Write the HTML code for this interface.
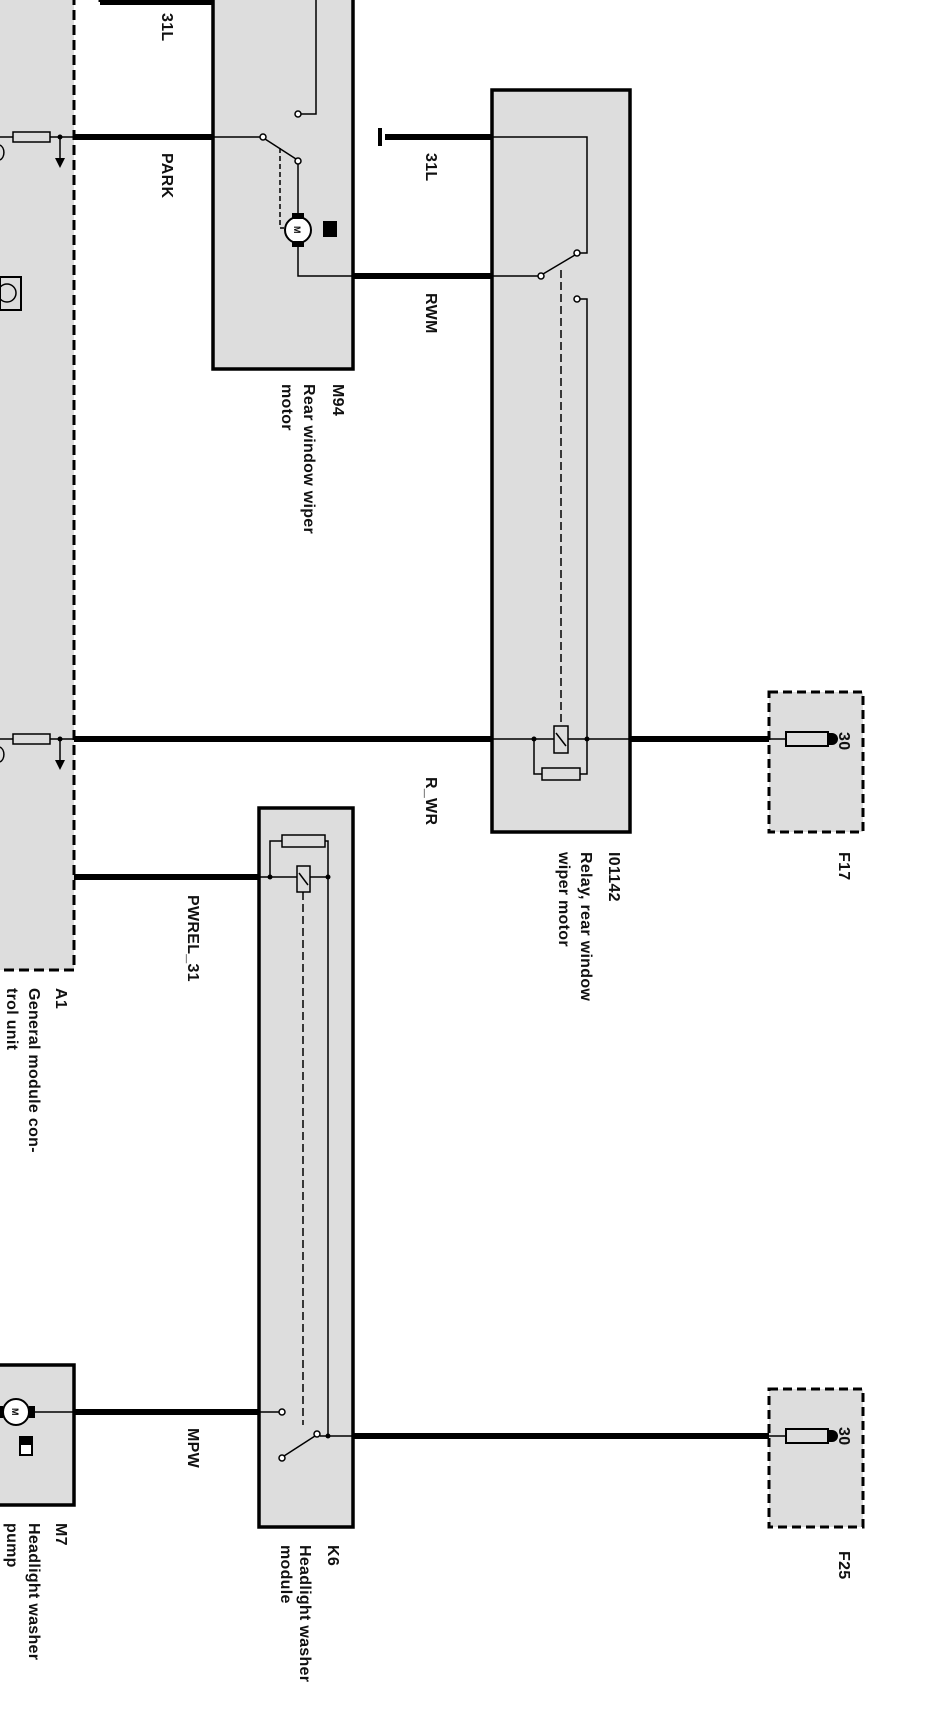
<!DOCTYPE html>
<html><head><meta charset="utf-8"><style>
html,body{margin:0;padding:0;background:#fff;}
svg{display:block}
text{font-family:"Liberation Sans",Arial,sans-serif;font-size:16px;font-weight:bold;fill:#111;letter-spacing:0.3px}
text.m{font-size:9px;letter-spacing:0}
</style></head><body>
<svg width="944" height="1711" viewBox="0 0 944 1711" xmlns="http://www.w3.org/2000/svg">
<rect x="-5" y="-5" width="79" height="975" fill="#ddd"/>
<path d="M74 -5 V970 H-5" fill="none" stroke="#000" stroke-width="3" stroke-dasharray="10,5"/>
<rect x="213" y="-5" width="140" height="374" fill="#ddd" stroke="#000" stroke-width="3.5"/>
<rect x="492" y="90" width="138" height="742" fill="#ddd" stroke="#000" stroke-width="3.5"/>
<rect x="259" y="808" width="94" height="719" fill="#ddd" stroke="#000" stroke-width="3.5"/>
<rect x="-5" y="1365" width="79" height="140" fill="#ddd" stroke="#000" stroke-width="3.5"/>
<rect x="769" y="692" width="94" height="140" fill="#ddd" stroke="#000" stroke-width="3" stroke-dasharray="9,5"/>
<rect x="769" y="1389" width="94" height="138" fill="#ddd" stroke="#000" stroke-width="3" stroke-dasharray="9,5"/>

<g stroke="#000" stroke-width="6">
<line x1="100" y1="2" x2="213" y2="2"/>
<line x1="74" y1="137" x2="213" y2="137"/>
<line x1="385" y1="137" x2="492" y2="137"/>
<line x1="353" y1="276" x2="492" y2="276"/>
<line x1="74" y1="739" x2="492" y2="739"/>
<line x1="630" y1="739" x2="769" y2="739"/>
<line x1="74" y1="877" x2="259" y2="877"/>
<line x1="74" y1="1412" x2="259" y2="1412"/>
<line x1="353" y1="1436" x2="769" y2="1436"/>
</g>
<path d="M100 2 V-6" stroke="#000" stroke-width="3"/>
<path d="M380 128 V146" stroke="#000" stroke-width="4"/>

<g stroke="#000" stroke-width="1.5" fill="none">
<line x1="0" y1="137" x2="13" y2="137"/><line x1="50" y1="137" x2="74" y2="137"/>
<rect x="13" y="132" width="37" height="10" fill="#ddd"/>
<line x1="60" y1="137" x2="60" y2="160"/>
<line x1="0" y1="739" x2="13" y2="739"/><line x1="50" y1="739" x2="74" y2="739"/>
<rect x="13" y="734" width="37" height="10" fill="#ddd"/>
<line x1="60" y1="739" x2="60" y2="762"/>
<path d="M0 145 A6 8 0 0 1 0 160"/><path d="M0 747 A6 8 0 0 1 0 762"/>
<rect x="0" y="277" width="21" height="33" stroke-width="2"/>
<circle cx="7" cy="293" r="9"/>
<path d="M316 -5 V114 H301"/>
<circle cx="298" cy="114" r="3" fill="#fff"/>
<path d="M213 137 H260"/>
<circle cx="263" cy="137" r="3" fill="#fff"/>
<line x1="265" y1="139" x2="296" y2="159"/>
<circle cx="298" cy="161" r="3" fill="#fff"/>
<path d="M298 164 V214"/>
<path d="M280 148 V228 H284" stroke-dasharray="5,3"/>
<circle cx="298" cy="230" r="13" fill="#fff" stroke-width="2"/>
<path d="M298 243 V276 H353"/>
<path d="M492 137 H587 V253 H580"/>
<path d="M492 276 H538"/>
<circle cx="541" cy="276" r="3" fill="#fff"/>
<line x1="543" y1="274" x2="575" y2="255"/>
<circle cx="577" cy="253" r="3" fill="#fff"/>
<circle cx="577" cy="299" r="3" fill="#fff"/>
<path d="M580 299 H587 V739"/>
<path d="M561 270 V726" stroke-dasharray="8,4"/>
<path d="M492 739 H630"/>
<rect x="554" y="726" width="14" height="27" fill="#ddd"/>
<line x1="556" y1="733" x2="566" y2="746"/>
<path d="M534 739 V774 H542"/><path d="M580 774 H587 V739"/>
<rect x="542" y="768" width="38" height="12" fill="#ddd"/>
<line x1="769" y1="739" x2="786" y2="739"/>
<rect x="786" y="732" width="42" height="14" fill="#ddd" stroke-width="2"/>
<line x1="769" y1="1436" x2="786" y2="1436"/>
<rect x="786" y="1429" width="42" height="14" fill="#ddd" stroke-width="2"/>
<path d="M259 877 H328"/>
<path d="M270 877 V841 H282"/><path d="M325 841 H328 V1436"/>
<rect x="282" y="835" width="43" height="12" fill="#ddd"/>
<rect x="297" y="866" width="13" height="26" fill="#ddd"/>
<line x1="299" y1="873" x2="308" y2="885"/>
<path d="M303 892 V1425" stroke-dasharray="8,4"/>
<path d="M259 1412 H279"/>
<circle cx="282" cy="1412" r="3" fill="#fff"/>
<circle cx="317" cy="1434" r="3" fill="#fff"/>
<line x1="315" y1="1436" x2="284" y2="1456"/>
<circle cx="282" cy="1458" r="3" fill="#fff"/>
<path d="M320 1436 H353"/>
<path d="M29 1412 H74"/>
<circle cx="16" cy="1412" r="13" fill="#fff" stroke-width="2"/>
<rect x="20" y="1437" width="12" height="18" fill="#fff" stroke-width="2"/>
</g>
<g fill="#000">
<polygon points="55,158 65,158 60,168"/><polygon points="55,760 65,760 60,770"/>
<circle cx="60" cy="137" r="2.5"/><circle cx="60" cy="739" r="2.5"/>
<rect x="292" y="213" width="12" height="6"/><rect x="292" y="241" width="12" height="6"/>
<rect x="323" y="221" width="14" height="16"/>
<circle cx="534" cy="739" r="2.5"/><circle cx="587" cy="739" r="2.5"/>
<circle cx="270" cy="877" r="2.5"/><circle cx="328" cy="877" r="2.5"/><circle cx="328" cy="1436" r="2.5"/>
<path d="M828 733 h4 a6 6 0 0 1 0 12 h-4z"/><path d="M828 1430 h4 a6 6 0 0 1 0 12 h-4z"/>
<rect x="29" y="1406" width="6" height="12"/><rect x="-3" y="1406" width="6" height="12"/>
<rect x="20" y="1437" width="12" height="8"/>
</g>
<text class="m" transform="translate(294,226) rotate(90)">M</text>
<text class="m" transform="translate(12,1408) rotate(90)">M</text>

<g>
<text transform="translate(162,13) rotate(90)">31L</text>
<text transform="translate(162,153) rotate(90)">PARK</text>
<text transform="translate(426,153) rotate(90)">31L</text>
<text transform="translate(426,293) rotate(90)">RWM</text>
<text transform="translate(426,777) rotate(90)">R_WR</text>
<text transform="translate(188,895) rotate(90)">PWREL_31</text>
<text transform="translate(188,1428) rotate(90)">MPW</text>
<text transform="translate(333,384) rotate(90)">M94</text>
<text transform="translate(304,384) rotate(90)">Rear window wiper</text>
<text transform="translate(282,384) rotate(90)">motor</text>
<text transform="translate(609,852) rotate(90)">I01142</text>
<text transform="translate(581,852) rotate(90)">Relay, rear window</text>
<text transform="translate(559,852) rotate(90)">wiper motor</text>
<text transform="translate(839,852) rotate(90)">F17</text>
<text transform="translate(839,1551) rotate(90)">F25</text>
<text transform="translate(839,732) rotate(90)">30</text>
<text transform="translate(839,1427) rotate(90)">30</text>
<text transform="translate(56,988) rotate(90)">A1</text>
<text transform="translate(29,988) rotate(90)">General module con-</text>
<text transform="translate(7,988) rotate(90)">trol unit</text>
<text transform="translate(56,1523) rotate(90)">M7</text>
<text transform="translate(29,1523) rotate(90)">Headlight washer</text>
<text transform="translate(7,1523) rotate(90)">pump</text>
<text transform="translate(328,1545) rotate(90)">K6</text>
<text transform="translate(300,1545) rotate(90)">Headlight washer</text>
<text transform="translate(281,1545) rotate(90)">module</text>
</g>
</svg>
</body></html>
